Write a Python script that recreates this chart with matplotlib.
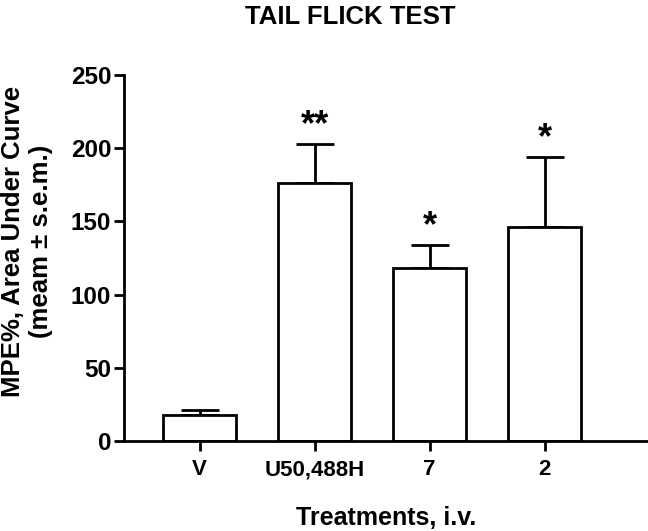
import matplotlib
matplotlib.use("Agg")
import matplotlib.pyplot as plt

plt.rcParams['font.family'] = ['Liberation Sans', 'DejaVu Sans']
plt.rcParams['font.weight'] = 'bold'

categories = ["V", "U50,488H", "7", "2"]
means = [17.8, 176, 118, 146]
sems = [3.6, 27, 16, 48]
stars = ["", "**", "*", "*"]

fig = plt.figure(figsize=(6.48, 5.31), dpi=100)
ax = fig.add_axes([0.191, 0.1695, 0.809, 0.689])

x = list(range(len(categories)))
ax.bar(x, means, width=0.64, color='white', edgecolor='black', linewidth=2, zorder=2)
ax.errorbar(x, means, yerr=[[0]*len(sems), sems], fmt='none', ecolor='black',
            elinewidth=2, capsize=14, capthick=2, zorder=1)
for xi, m, s, st in zip(x, means, sems, stars):
    if st:
        ax.text(xi, m + s + 0.5, st, ha='center', va='bottom', fontsize=26, fontweight='bold')

ax.set_xlim(-0.66, 3.9)
ax.set_ylim(0, 250)
ax.set_yticks([0, 50, 100, 150, 200, 250])
ax.set_xticks(x)
ax.set_xticklabels(categories, fontsize=16, fontweight='bold')
for lbl in ax.get_yticklabels():
    lbl.set_fontsize(17.5)
    lbl.set_fontweight('bold')
ax.tick_params(axis='both', width=2, length=7, direction='out')
ax.tick_params(axis='x', pad=6)
ax.tick_params(axis='y', pad=2)
for sp in ['top', 'right']:
    ax.spines[sp].set_visible(False)
for sp in ['left', 'bottom']:
    ax.spines[sp].set_linewidth(2)

ax.set_ylabel("MPE%, Area Under Curve\n(meam \u00b1 s.e.m.)", fontsize=18.5, fontweight='bold', labelpad=13)
ax.yaxis.label.set_y(0.546)
ax.set_xlabel("Treatments, i.v.", fontsize=18, fontweight='bold', labelpad=19)
fig.text(0.54, 0.99, "TAIL FLICK TEST", ha='center', va='top', fontsize=18.5, fontweight='bold')

fig.savefig("out.png", dpi=100)
